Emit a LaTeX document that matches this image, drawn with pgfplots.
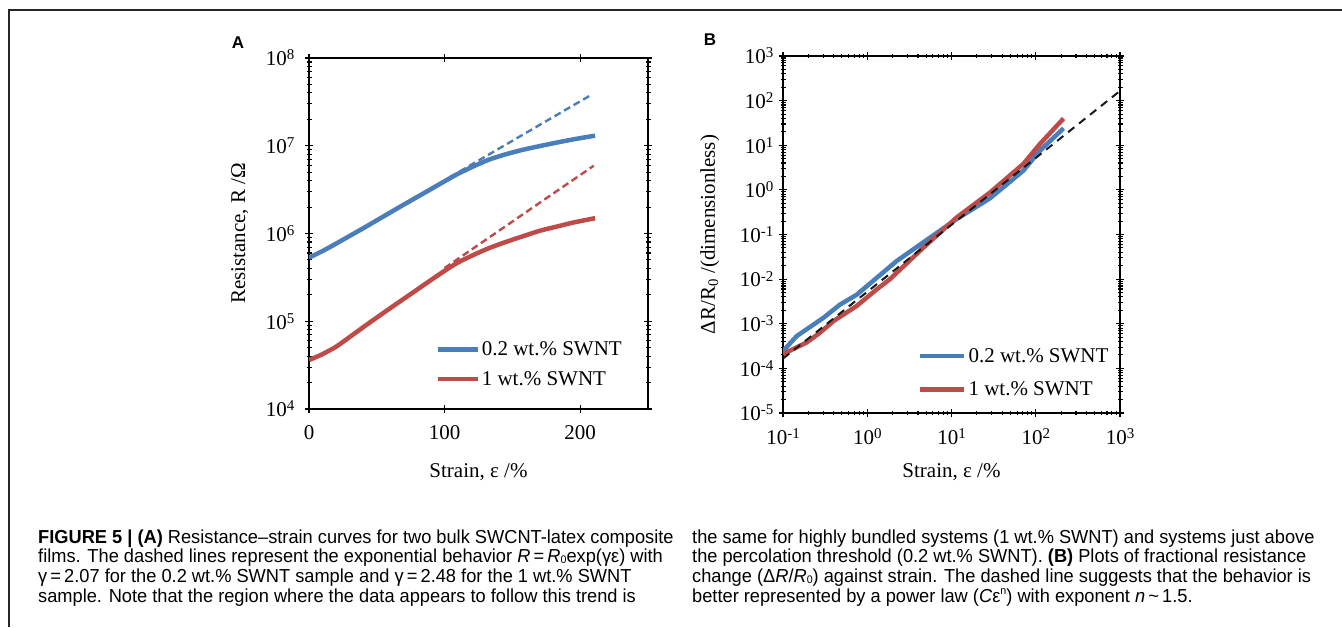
\documentclass[border=0pt]{standalone}
\usepackage{pgfplots}
\pgfplotsset{compat=1.18}
\usepackage{fontspec}
\setmainfont{Liberation Serif}
\newfontfamily\capfont[FakeStretch=0.97]{Liberation Sans}
\newfontfamily\panelfont{Liberation Sans}
\definecolor{cblue}{HTML}{4A7EBB}
\definecolor{cred}{HTML}{BE4B48}
\newcommand\ex[1]{\raisebox{0.62ex}{\fontsize{15}{15}\selectfont #1}}
\newcommand\zsub{\raisebox{-0.12ex}{\fontsize{11}{11}\selectfont 0}}
\pgfplotsset{
  common/.style={
    scale only axis,
    tick align=center,
    major tick length=8pt, minor tick length=5pt,
    axis line style={line width=1.6pt, black},
    every tick/.style={line width=1.1pt, black},
    ticklabel style={font=\fontsize{21}{24}\selectfont},
    label style={font=\fontsize{21}{24}\selectfont},
    legend style={draw=none, fill=none, font=\fontsize{21}{24}\selectfont,
      inner sep=0pt, nodes={inner sep=2pt}},
    legend cell align=left,
  }
}
\begin{document}
\begin{tikzpicture}[x=1pt,y=1pt]
\useasboundingbox (0,0) rectangle (1342,627);
\draw[line width=1.5pt, black!85] (9,0) -- (9,617) -- (1342,617);

% Panel A
\begin{axis}[common,
  at={(309pt,218pt)}, anchor=south west,
  width=339pt, height=351pt,
  xmin=0, xmax=250, ymode=log, ymin=1e4, ymax=1e8,
  xtick={0,100,200}, xticklabels={0,100,200},
  ytick={1e4,1e5,1e6,1e7,1e8},
  yticklabels={10\ex{4},10\ex{5},10\ex{6},10\ex{7},10\ex{8}},
  minor ytick={2e4,3e4,4e4,5e4,6e4,7e4,8e4,9e4,2e5,3e5,4e5,5e5,6e5,7e5,8e5,9e5,2e6,3e6,4e6,5e6,6e6,7e6,8e6,9e6,2e7,3e7,4e7,5e7,6e7,7e7,8e7,9e7},
  xticklabel style={yshift=-9pt},
  yticklabel style={xshift=-7pt},
  xlabel={Strain, ε /\%},
  ylabel={Resistance, R /Ω},
  xlabel style={at={(axis description cs:0.5,-0.18)}, anchor=center},
  ylabel style={at={(axis description cs:-0.204,0.5)}, anchor=center},
  legend image code/.code={\draw[#1] (0pt,0pt) -- (40pt,0pt);},
  legend style={at={(0.372,0.198)}, anchor=north west, row sep=10pt},
]
\addplot[cblue, line width=4.5pt, smooth, tension=0.4] coordinates {
(0,5.30e5) (10,6.31e5) (20,7.67e5) (30,9.38e5) (40,1.148e6) (55,1.567e6) (70,2.138e6)
(85,2.897e6) (96.6,3.673e6) (108,4.624e6) (121.2,5.82e6) (133,6.97e6) (145.8,8.05e6)
(158,9.02e6) (170.4,9.93e6) (183,1.089e7) (195,1.183e7) (210.9,1.303e7)};
\addlegendentry{0.2 wt.\% SWNT}
\addplot[cred, line width=4.5pt, smooth, tension=0.4] coordinates {
(0,3.61e4) (10,4.22e4) (20,5.13e4) (30,6.61e4) (42.5,9.12e4) (60,1.413e5) (76.9,2.138e5)
(90,2.951e5) (101.5,3.89e5) (110,4.68e5) (121.2,5.69e5) (133,6.84e5) (145.8,8.07e5)
(158,9.33e5) (170.4,1.076e6) (183,1.202e6) (195,1.334e6) (211,1.496e6)};
\addlegendentry{1 wt.\% SWNT}
\addplot[cblue, line width=2.4pt, dash pattern=on 7pt off 4pt, forget plot] coordinates {(104,4.39e6) (207,3.71e7)};
\addplot[cred, line width=2.4pt, dash pattern=on 7pt off 4pt, forget plot] coordinates {(100,4.04e5) (210,5.92e6)};
\end{axis}

% Panel B
\begin{axis}[common,
  at={(783pt,214pt)}, anchor=south west,
  width=337pt, height=357pt,
  xmode=log, ymode=log,
  xmin=0.1, xmax=1000, ymin=1e-5, ymax=1e3,
  xtick={0.1,1,10,100,1000},
  xticklabels={10\ex{-1},10\ex{0},10\ex{1},10\ex{2},10\ex{3}},
  minor xtick={0.2,0.3,0.4,0.5,0.6,0.7,0.8,0.9,2,3,4,5,6,7,8,9,20,30,40,50,60,70,80,90,200,300,400,500,600,700,800,900},
  ytick={1e-5,1e-4,1e-3,1e-2,1e-1,1,10,100,1000},
  yticklabels={10\ex{-5},10\ex{-4},10\ex{-3},10\ex{-2},10\ex{-1},10\ex{0},10\ex{1},10\ex{2},10\ex{3}},
  minor ytick={2e-5,3e-5,4e-5,5e-5,6e-5,7e-5,8e-5,9e-5,2e-4,3e-4,4e-4,5e-4,6e-4,7e-4,8e-4,9e-4,2e-3,3e-3,4e-3,5e-3,6e-3,7e-3,8e-3,9e-3,0.02,0.03,0.04,0.05,0.06,0.07,0.08,0.09,0.2,0.3,0.4,0.5,0.6,0.7,0.8,0.9,2,3,4,5,6,7,8,9,20,30,40,50,60,70,80,90,200,300,400,500,600,700,800,900},
  xticklabel style={yshift=-8pt},
  yticklabel style={xshift=-2pt},
  xlabel={Strain, ε /\%},
  ylabel={ΔR/R\textsubscript{0} /(dimensionless)},
  xlabel style={at={(axis description cs:0.5,-0.165)}, anchor=center},
  ylabel style={at={(axis description cs:-0.217,0.5)}, anchor=center},
  legend image code/.code={\draw[#1] (0pt,0pt) -- (44pt,0pt);},
  legend style={at={(0.40,0.188)}, anchor=north west, row sep=14pt},
]
\addplot[cblue, line width=4.5pt] coordinates {
(0.1,2.45e-4) (0.1456,5.30e-4) (0.302,1.36e-3) (0.475,2.69e-3) (0.75,4.47e-3) (1.0,7.08e-3)
(2.23,0.0254) (5.56,0.0851) (11.48,0.221) (28.6,0.646) (71.1,2.69) (112.2,7.59) (213.8,24.0)};
\addlegendentry{0.2 wt.\% SWNT}
\addplot[cred, line width=4.5pt] coordinates {
(0.1,2.09e-4) (0.1905,3.80e-4) (0.275,6.31e-4) (0.398,1.15e-3) (0.75,2.51e-3) (1.294,5.89e-3)
(1.862,0.01) (4.63,0.0507) (11.48,0.24) (28.6,0.871) (71.1,3.8) (112.2,10.7) (213.8,39.8)};
\addlegendentry{1 wt.\% SWNT}
\addplot[black!90, line width=2pt, dash pattern=on 8pt off 6pt, forget plot] coordinates {
(0.1,1.66e-4) (1,5.2e-3) (10,0.165) (100,5.2) (1000,165)};
\end{axis}

\node[font=\panelfont\bfseries\fontsize{17}{20}\selectfont] at (238,584) {A};
\node[font=\panelfont\bfseries\fontsize{17}{20}\selectfont] at (710,587) {B};

\begin{scope}[every node/.style={anchor=base west, inner sep=0pt, font=\capfont\fontsize{18.8}{22}\selectfont}]
\node at (38,84) {\textbf{FIGURE 5 | (A)} Resistance–strain curves for two bulk SWCNT-latex composite};
\node at (38,64.3) {films. The dashed lines represent the exponential behavior \textit{R}\,=\,\textit{R}\zsub exp(γε) with};
\node at (38,44.7) {γ\,=\,2.07 for the 0.2 wt.\% SWNT sample and γ\,=\,2.48 for the 1 wt.\% SWNT};
\node at (38,25) {sample. Note that the region where the data appears to follow this trend is};
\node at (692,84) {the same for highly bundled systems (1 wt.\% SWNT) and systems just above};
\node at (692,64.3) {the percolation threshold (0.2 wt.\% SWNT). \textbf{(B)} Plots of fractional resistance};
\node at (692,44.7) {change (Δ\textit{R}/\textit{R}\zsub) against strain. The dashed line suggests that the behavior is};
\node at (692,25) {better represented by a power law (\textit{C}ε\raisebox{0.8ex}{\fontsize{11}{11}\selectfont n}) with exponent \textit{n}\,\textasciitilde\,1.5.};
\end{scope}
\end{tikzpicture}
\end{document}
